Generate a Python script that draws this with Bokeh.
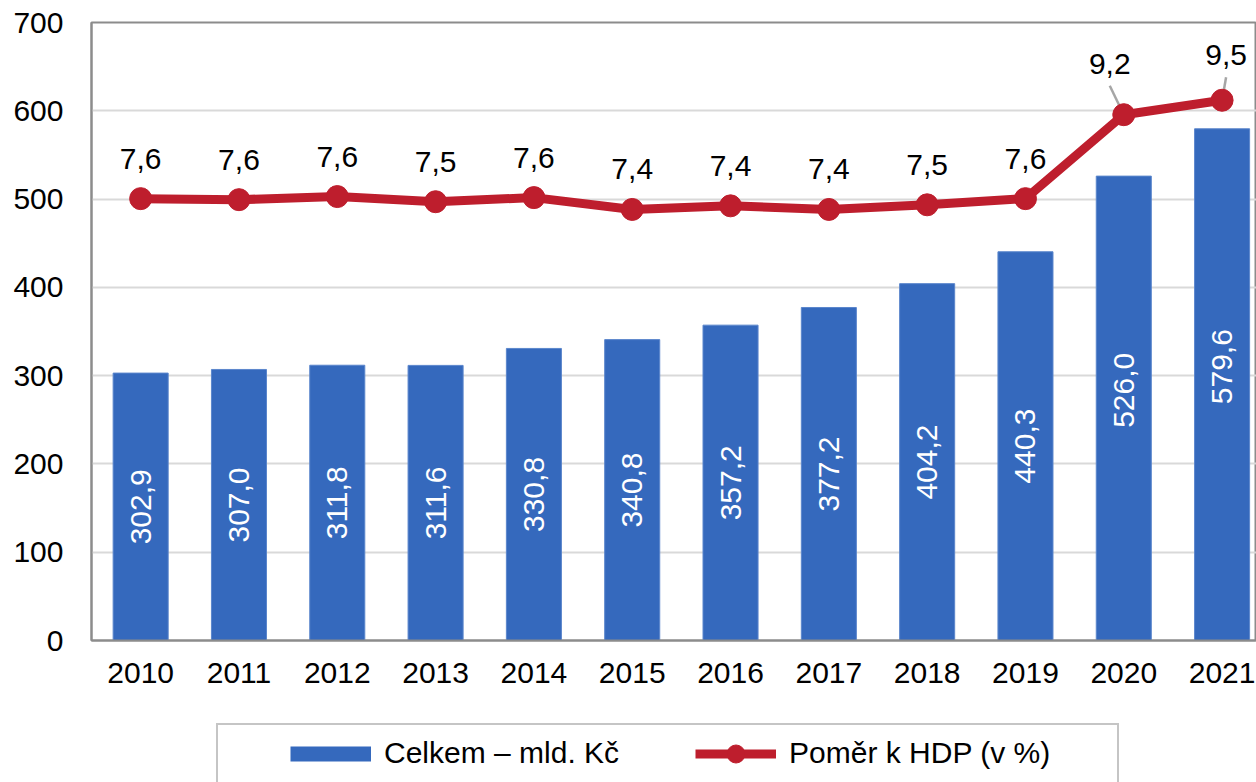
from bokeh.plotting import figure
from bokeh.layouts import column
from bokeh.models import Range1d, FixedTicker, ColumnDataSource, Legend, LegendItem
from bokeh.core.properties import value
from bokeh.embed import file_html
from bokeh.resources import INLINE

# ---------------- data ----------------
years = ["2010", "2011", "2012", "2013", "2014", "2015",
         "2016", "2017", "2018", "2019", "2020", "2021"]
celkem = [302.9, 307.0, 311.8, 311.6, 330.8, 340.8,
          357.2, 377.2, 404.2, 440.3, 526.0, 579.6]
pomer = [7.58, 7.56, 7.62, 7.52, 7.60, 7.37,
         7.44, 7.37, 7.46, 7.58, 9.21, 9.49]
y_ticks = [0, 100, 200, 300, 400, 500, 600, 700]
series_names = ["Celkem – mld. Kč", "Poměr k HDP (v %)"]

# ---------------- style ----------------
FONT = "Liberation Sans"
FS = "30px"
BLUE = "#3569BD"
BLUE_EDGE = "#5b86cc"
RED = "#BE1E2D"
AXIS_GRAY = "#8c8c8c"
GRID_GRAY = "#d9d9d9"

W, H = 1256, 700
LEG_H = 82
ML, MT, MR, MB = 91, 22, 0, 60
X_START, X_END = -0.5, 11.35
Y_START, Y_END = 0, 700
Y2_START, Y2_END = -1, 11
FRAME_W = W - ML - MR
FRAME_H = H - MT - MB
PX_X = FRAME_W / (X_END - X_START)       # px per x unit
PX_Y2 = FRAME_H / (Y2_END - Y2_START)    # px per pct unit

bar_label_nudge = {"2020": -18, "2021": -18}           # px (screen, negative = up)
line_label_offsets = {"2020": (-14, -51), "2021": (4, -45)}
default_line_offset = (0, -40)
leader_years = ["2020", "2021"]

xs = list(range(len(years)))

p = figure(width=W, height=H, output_backend="svg", toolbar_location=None,
           x_range=Range1d(X_START, X_END), y_range=Range1d(Y_START, Y_END),
           min_border_left=ML, min_border_top=MT, min_border_right=MR,
           min_border_bottom=MB)
p.extra_y_ranges = {"pct": Range1d(Y2_START, Y2_END)}
p.background_fill_color = "white"
p.border_fill_color = "white"
p.outline_line_color = AXIS_GRAY
p.outline_line_width = 2

# bars
bars = p.vbar(x=xs, top=celkem, width=0.56, fill_color=BLUE,
              line_color=BLUE_EDGE, line_width=1)

# bar labels
bl_src = ColumnDataSource(dict(
    x=xs, y=[v / 2 for v in celkem],
    t=[f"{v:.1f}".replace(".", ",") for v in celkem],
    yo=[bar_label_nudge.get(yr, 0) for yr in years]))
p.text(x="x", y="y", text="t", y_offset="yo", source=bl_src, angle=1.5707963,
       text_align="center", text_baseline="middle", text_color="white",
       text_font=value(FONT), text_font_size=FS)

# line
line_r = p.line(xs, pomer, y_range_name="pct", line_width=9, line_color=RED)

# leader lines
lx0, ly0, lx1, ly1 = [], [], [], []
for i, yr in enumerate(years):
    if yr in leader_years:
        ox, oy = line_label_offsets[yr]
        lx0.append(xs[i] + ox / PX_X)
        ly0.append(pomer[i] - (oy + 22) / PX_Y2)
        lx1.append(xs[i])
        ly1.append(pomer[i])
p.segment(x0=lx0, y0=ly0, x1=lx1, y1=ly1, y_range_name="pct",
          line_color="#a6a6a6", line_width=2.5)

dots = p.scatter(xs, pomer, y_range_name="pct", size=22, marker="circle",
                 fill_color=RED, line_color=RED)

# line labels
offs = [line_label_offsets.get(yr, default_line_offset) for yr in years]
ll_src = ColumnDataSource(dict(
    x=xs, y=pomer,
    t=[f"{v:.1f}".replace(".", ",") for v in pomer],
    xo=[o[0] for o in offs], yo=[o[1] for o in offs]))
p.text(x="x", y="y", text="t", x_offset="xo", y_offset="yo", source=ll_src,
       y_range_name="pct", text_align="center", text_baseline="middle",
       text_color="black", text_font=value(FONT), text_font_size=FS)

# axes
p.xaxis.ticker = FixedTicker(ticks=xs)
p.xaxis.major_label_overrides = {i: yr for i, yr in enumerate(years)}
p.yaxis.ticker = FixedTicker(ticks=y_ticks)
for ax in (p.xaxis, p.yaxis):
    ax.axis_line_color = AXIS_GRAY
    ax.axis_line_width = 2
    ax.major_tick_line_color = None
    ax.minor_tick_line_color = None
    ax.major_tick_out = 0
    ax.major_tick_in = 0
    ax.major_label_text_font = FONT
    ax.major_label_text_font_size = FS
    ax.major_label_text_color = "black"
p.xaxis.major_label_standoff = 22
p.yaxis.major_label_standoff = 28

p.xgrid.visible = False
p.ygrid.ticker = FixedTicker(ticks=y_ticks)
p.ygrid.grid_line_color = GRID_GRAY
p.ygrid.grid_line_width = 2

# ---------------- legend strip ----------------
# (its frame is aligned with the chart frame by the column layout: left edge at ML)
q = figure(width=W, height=LEG_H, output_backend="svg", toolbar_location=None,
           x_range=Range1d(0, 1), y_range=Range1d(0, 1),
           x_axis_type=None, y_axis_type=None,
           min_border_left=0, min_border_right=0, min_border_top=0,
           min_border_bottom=0)
q.grid.visible = False
q.outline_line_color = None
q.background_fill_color = "white"
q.border_fill_color = "white"

# legend key renderers: real series, but outside this strip's (0..1) ranges
dummy_box = q.line(x=xs, y=celkem, line_alpha=0)
blue_key = q.line(x=xs, y=celkem, line_color=BLUE, line_width=15, line_cap="butt")
red_key = q.line(x=xs, y=pomer, line_color=RED, line_width=9)
red_dot = q.scatter(x=xs, y=pomer, marker="circle", size=18,
                    fill_color=RED, line_color=RED)

LX = 216 - ML   # legend box left (screen px) relative to strip frame
legend_box = Legend(items=[LegendItem(label=" ", renderers=[dummy_box])],
                    location=(LX, -45), orientation="horizontal",
                    padding=0, margin=0, spacing=0, glyph_width=899,
                    glyph_height=100, label_standoff=0, label_width=0,
                    label_text_font_size="1px", label_text_alpha=0,
                    border_line_color=AXIS_GRAY, border_line_width=2,
                    background_fill_alpha=0)
q.add_layout(legend_box, "center")

legend = Legend(items=[LegendItem(label=series_names[0], renderers=[blue_key]),
                       LegendItem(label=series_names[1], renderers=[red_key, red_dot])],
                location=(LX + 74, 6.5), orientation="horizontal",
                padding=0, margin=0, spacing=76, glyph_width=81, glyph_height=45,
                label_standoff=13, label_text_font=FONT, label_text_font_size=FS,
                label_text_color="black", border_line_alpha=0,
                background_fill_alpha=0)
q.add_layout(legend, "center")

layout = column(p, q, spacing=0)
open("out.html", "w").write(file_html(layout, INLINE))
